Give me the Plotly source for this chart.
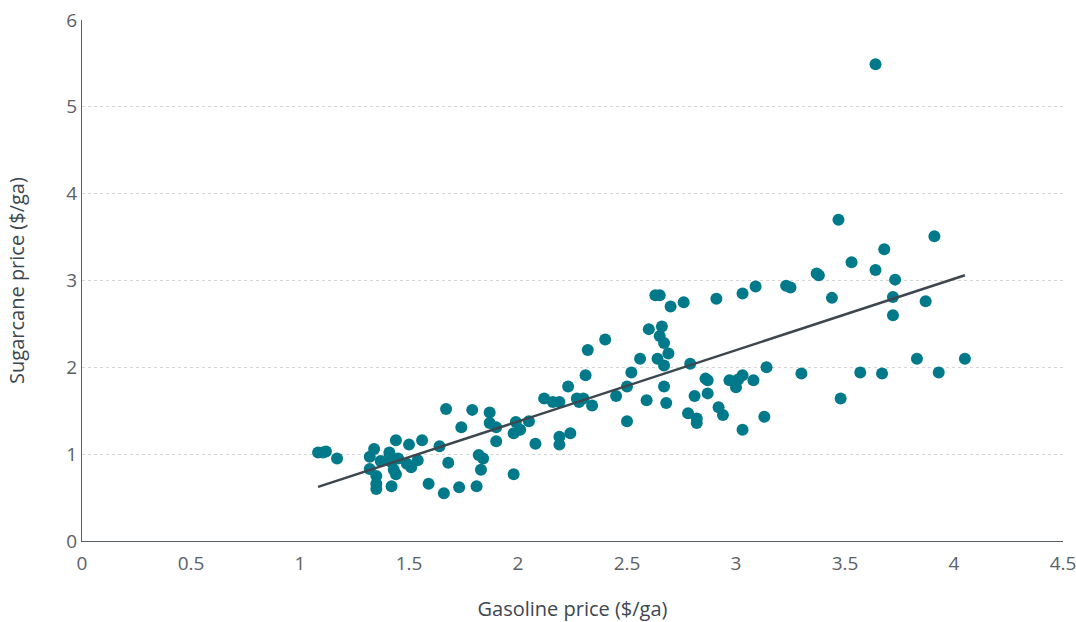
import numpy as np
import plotly.graph_objects as go

gasoline = [1.083, 1.106, 1.119, 1.17, 1.34, 1.32, 1.32, 1.35, 1.35, 1.35, 1.41, 1.44, 1.37, 1.40, 1.42, 1.43, 1.44,
            1.42, 1.45, 1.50, 1.49, 1.51, 1.54, 1.56, 1.59, 1.64, 1.67, 1.68, 1.66, 1.74, 1.73, 1.79, 1.81, 1.82,
            1.84, 1.83, 1.87, 1.87, 1.90, 1.90, 1.98, 1.98, 1.99, 2.01, 2.05, 2.08, 2.12,
            2.16, 2.19, 2.19, 2.19, 2.24, 2.23, 2.27, 2.28, 2.30, 2.34, 2.31, 2.32, 2.40, 2.45, 2.50, 2.50, 2.52,
            2.56, 2.60, 2.59, 2.64, 2.65, 2.66, 2.67, 2.69, 2.67, 2.67, 2.68, 2.70, 2.76, 2.63, 2.65, 2.79, 2.78,
            2.82, 2.82, 2.81, 2.86, 2.87, 2.87, 2.92, 2.94, 2.91, 2.97, 3.00, 3.01, 3.03, 3.03, 3.08,
            3.03, 3.09, 3.23, 3.25, 3.37, 3.38, 3.44, 3.47, 3.53, 3.64, 3.68, 3.73, 3.72, 3.72, 3.87, 3.91, 3.83,
            4.05, 3.93, 3.67, 3.57, 3.30, 3.48, 3.13, 3.14, 3.64]
sugarcane = [1.02, 1.02, 1.03, 0.95, 1.06, 0.97, 0.83, 0.75, 0.66, 0.60, 1.02, 1.16, 0.92, 0.93, 0.91, 0.82, 0.77,
             0.63, 0.95, 1.11, 0.89, 0.85, 0.93, 1.16, 0.66, 1.09, 1.52, 0.90, 0.55, 1.31, 0.62, 1.51, 0.63, 0.99,
             0.95, 0.82, 1.48, 1.36, 1.31, 1.15, 1.24, 0.77, 1.37, 1.28, 1.38, 1.12, 1.64,
             1.60, 1.60, 1.20, 1.11, 1.24, 1.78, 1.64, 1.60, 1.64, 1.56, 1.91, 2.20, 2.32, 1.67, 1.38, 1.78, 1.94,
             2.10, 2.44, 1.62, 2.10, 2.36, 2.47, 2.28, 2.16, 2.02, 1.78, 1.59, 2.70, 2.75, 2.83, 2.83, 2.04, 1.47,
             1.41, 1.36, 1.67, 1.87, 1.85, 1.70, 1.54, 1.45, 2.79, 1.85, 1.77, 1.86, 1.91, 1.28, 1.85,
             2.85, 2.93, 2.94, 2.92, 3.08, 3.06, 2.80, 3.70, 3.21, 3.12, 3.36, 3.01, 2.81, 2.60, 2.76, 3.51, 2.10,
             2.10, 1.94, 1.93, 1.94, 1.93, 1.64, 1.43, 2.00, 5.49]

x_ticks = [0, 0.5, 1, 1.5, 2, 2.5, 3, 3.5, 4, 4.5]
x_tick_labels = ["0", "0.5", "1", "1.5", "2", "2.5", "3", "3.5", "4", "4.5"]
y_ticks = [0, 1, 2, 3, 4, 5, 6]

gx = np.array(gasoline)
sy = np.array(sugarcane)
slope, intercept = np.polyfit(gx, sy, 1)
fit_x = np.array([gx.min(), gx.max()])
fit_y = slope * fit_x + intercept

fig = go.Figure()
fig.add_trace(go.Scatter(x=gasoline, y=sugarcane, mode="markers",
                         marker=dict(color="#007A8A", size=12, line=dict(width=0)),
                         showlegend=False, hoverinfo="x+y"))
fig.add_trace(go.Scatter(x=fit_x, y=fit_y, mode="lines",
                         line=dict(color="#3D4750", width=2.5), showlegend=False))

font_fam = "'Open Sans', Lato, sans-serif"
fig.update_layout(
    width=1076, height=622,
    margin=dict(l=82, r=13, t=20, b=81),
    paper_bgcolor="white", plot_bgcolor="white",
    font=dict(family=font_fam, color="#4A4F55", size=18),
    xaxis=dict(range=[0, 4.5], tickvals=x_ticks, ticktext=x_tick_labels, showgrid=False,
               showline=True, linecolor="#5A6068", linewidth=1, zeroline=False, automargin=False,
               ticks="", tickfont=dict(size=19, color="#5B6168"), ticklabeloverflow="allow",
               ticklabelstandoff=5,
               title=dict(text="Gasoline price ($/ga)", standoff=28,
                          font=dict(size=20, color="#3D4750"))),
    yaxis=dict(range=[0, 6], tickvals=y_ticks, showgrid=True, gridcolor="#D6D6D6",
               griddash="dot", gridwidth=1, automargin=False,
               showline=True, linecolor="#5A6068", linewidth=1, zeroline=False,
               ticks="", tickfont=dict(size=19, color="#5B6168"), ticklabeloverflow="allow",
               title=dict(text="Sugarcane price ($/ga)", standoff=36,
                          font=dict(size=20, color="#3D4750"))),
)

fig.write_html("out.html", config={"displayModeBar": False},
               post_script="document.body.style.margin='0';")
